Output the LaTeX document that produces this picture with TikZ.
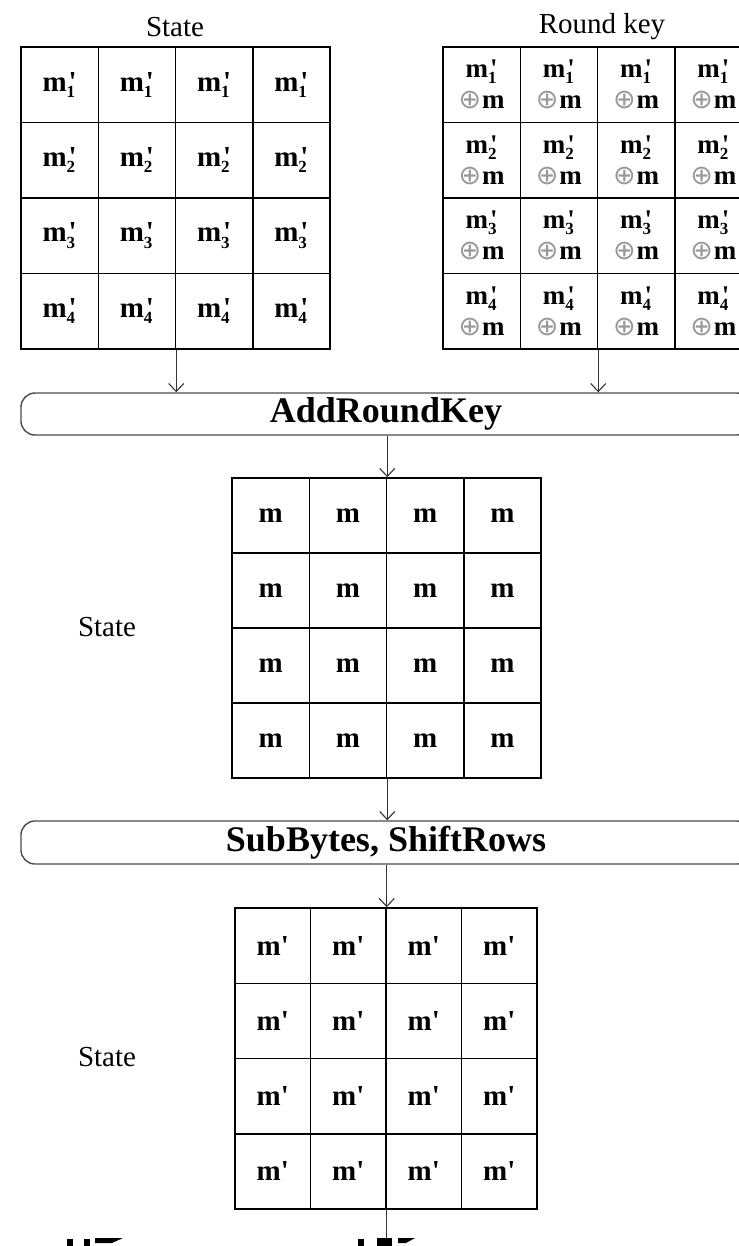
\documentclass[tikz,border=0pt]{standalone}
\usepackage{fontspec}
\setmainfont{Liberation Serif}
\newfontfamily\symfont{DejaVu Sans}
\usetikzlibrary{arrows.meta}
\newcommand\msub[1]{\textbf{m}\rlap{\raisebox{-0.22em}{\fontsize{17}{17}\selectfont\textbf{#1}}}\kern2pt\textbf{\textquotesingle}}
\newcommand\xo{{\mdseries\symfont\fontsize{27}{27}\selectfont\color{black!40}⊕}}
\tikzset{
  cell/.style={draw, line width=1.5pt, inner sep=0pt, font=\fontsize{29}{30}\selectfont\bfseries},
  keycell/.style={cell, align=center, font=\fontsize{27}{31}\selectfont\bfseries},
  lbl/.style={inner sep=0pt, font=\fontsize{29}{29}\selectfont},
  procbox/.style={draw=black!70, line width=1.4pt, rounded corners=14pt, minimum width=730pt,
    inner sep=0pt, font=\fontsize{36}{36}\selectfont\bfseries},
  flow/.style={-{Straight Barb[length=8pt,width=15pt,line width=1.1pt]}, line width=1.1pt, draw=black!80},
  frag/.style={fill=black}
}
\begin{document}
\begin{tikzpicture}[x=1pt,y=-1pt]
\useasboundingbox[fill=white] (0,0) rectangle (738,1246);
% labels
\node[lbl] (tl) at (175,27) {State};
\node[lbl] (tr) at (602,27) {Round key};
\node[lbl] (ml) at (107,627) {State};
\node[lbl] (bl) at (107,1057) {State};
% grids
\foreach \r in {1,...,4}{
  \foreach \c in {1,...,4}{
    \node[cell, minimum width=77.25pt, minimum height=75.5pt] (L-\r-\c)
      at ({21+(\c-0.5)*77.25},{47+(\r-0.5)*75.5}) {\msub{\r}};
    \node[keycell, minimum width=77.25pt, minimum height=75.5pt] (R-\r-\c)
      at ({443+(\c-0.5)*77.25},{47+(\r-0.5)*75.5}) {\msub{\r}\\\xo\kern1pt m};
    \node[cell, minimum width=77.25pt, minimum height=75pt] (M-\r-\c)
      at ({232+(\c-0.5)*77.25},{478+(\r-0.5)*75}) {m};
    \node[cell, minimum width=75.5pt, minimum height=75.25pt] (B-\r-\c)
      at ({235+(\c-0.5)*75.5},{908+(\r-0.5)*75.25}) {m\textquotesingle};
  }
}
% process boxes
\node[procbox, minimum height=42pt] (ark) at (386,414) {AddRoundKey};
\node[procbox, minimum height=43pt] (sbsr) at (386,842.5) {SubBytes, ShiftRows};
% connectors
\draw[flow] (L-4-2.south east) -- (L-4-2.south east |- ark.north);
\draw[flow] (R-4-2.south east) -- (R-4-2.south east |- ark.north);
\draw[flow] (ark.south -| M-1-2.north east) -- (M-1-2.north east);
\draw[flow] (M-4-2.south east) -- (M-4-2.south east |- sbsr.north);
\draw[flow] (sbsr.south -| B-1-2.north east) -- (B-1-2.north east);
\coordinate (exit) at (386,1250);
\draw[line width=1.1pt, black!80] (B-4-2.south east) -- (B-4-2.south east |- exit);
% cut-off fragments at the bottom edge
\fill[frag] (67,1239) rectangle (73,1246);
\fill[frag] (84,1239) rectangle (90,1246);
\fill[frag] (95,1238) -- (123,1238) -- (112,1243) -- (95,1243) -- cycle;
\fill[frag] (358,1239) rectangle (364,1246);
\fill[frag] (377,1238) rectangle (392,1246);
\fill[frag] (398,1238) -- (415,1238) -- (406,1243) -- (398,1243) -- cycle;
\end{tikzpicture}
\end{document}
